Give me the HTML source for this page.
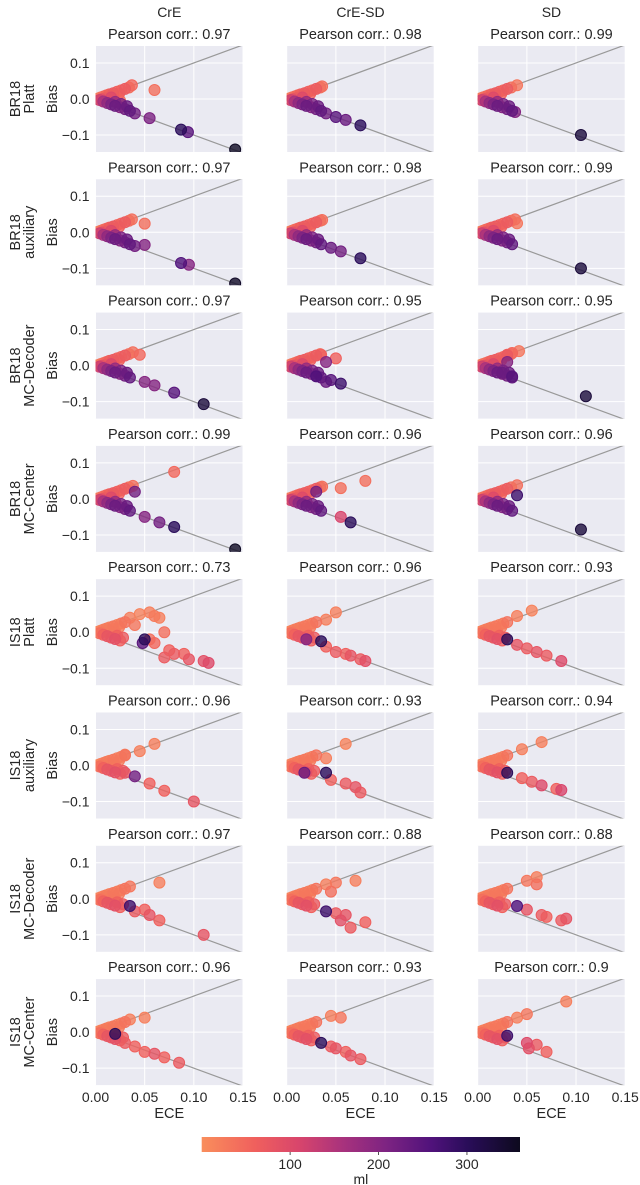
<!DOCTYPE html>
<html><head><meta charset="utf-8">
<style>
html,body{margin:0;padding:0;background:#fff;}
svg{display:block;font-family:"Liberation Sans",Arial,sans-serif;}
</style></head>
<body>
<svg id="chart" width="640" height="1185" viewBox="0 0 640 1185" xmlns="http://www.w3.org/2000/svg">
<defs>
<linearGradient id="cbgrad" x1="0" x2="1" y1="0" y2="0">
<stop offset="0" stop-color="#f98e5c"/>
<stop offset="0.167" stop-color="#f0605d"/>
<stop offset="0.306" stop-color="#d8456c"/>
<stop offset="0.444" stop-color="#a8327d"/>
<stop offset="0.583" stop-color="#7c2382"/>
<stop offset="0.722" stop-color="#50127b"/>
<stop offset="0.833" stop-color="#2a0d5a"/>
<stop offset="1" stop-color="#0d0a1e"/>
</linearGradient>
</defs>
</svg>
<script>
const colTitles = ["CrE","CrE-SD","SD"];
const rowDatasets = ["BR18","BR18","BR18","BR18","IS18","IS18","IS18","IS18"];
const rowMethods = ["Platt","auxiliary","MC-Decoder","MC-Center","Platt","auxiliary","MC-Decoder","MC-Center"];
const pearson = [
 ["0.97","0.98","0.99"],["0.97","0.98","0.99"],["0.97","0.95","0.95"],["0.99","0.96","0.96"],
 ["0.73","0.96","0.93"],["0.96","0.93","0.94"],["0.97","0.88","0.88"],["0.96","0.93","0.9"]];
const xTicks = [0,0.05,0.10,0.15];
const xTickLabels = ["0.00","0.05","0.10","0.15"];
const yTicks = [0.1,0,-0.1];
const yTickLabels = ["0.1","0.0","\u22120.1"];
const cbTicks = [100,200,300];
const cbTickLabels = ["100","200","300"];

// shared core clusters [ECE, Bias, ml]
const coreBR = [[0.002,0.001,20],[0.005,0.004,30],[0.008,0.007,40],[0.011,0.01,50],[0.014,0.013,60],[0.018,0.016,70],[0.022,0.02,60],[0.026,0.024,50],[0.03,0.028,70],[0.034,0.032,40],
 [0.012,0.006,40],[0.018,0.01,50],[0.024,0.015,60],[0.016,0.004,100],[0.02,-0.008,180],[0.026,-0.014,210],[0.032,-0.02,230],
 [0.004,-0.003,120],[0.008,-0.007,160],[0.012,-0.011,190],[0.016,-0.015,210],[0.02,-0.019,230],[0.025,-0.023,200],[0.03,-0.028,220],[0.035,-0.033,240],[0.006,-0.001,90],[0.01,0.002,70]];
const coreIS = [[0.002,0.001,10],[0.005,0.004,15],[0.008,0.007,20],[0.011,0.01,25],[0.014,0.013,15],[0.018,0.016,30],[0.022,0.02,20],[0.026,0.024,25],[0.03,0.028,35],
 [0.012,0.005,20],[0.018,0.009,15],[0.024,0.014,25],[0.02,0.0,30],[0.022,-0.01,60],[0.028,-0.015,70],
 [0.004,-0.003,40],[0.008,-0.007,60],[0.012,-0.011,80],[0.016,-0.015,70],[0.02,-0.019,90],[0.025,-0.023,60],[0.006,-0.001,30],[0.01,0.002,20],[0.015,0.003,25]];

const extra = [
 [[[0.037,0.038,50],[0.025,-0.005,30],[0.06,0.025,40],[0.04,-0.04,220],[0.055,-0.053,210],[0.087,-0.085,300],[0.094,-0.092,250],[0.142,-0.14,355]],
  [[0.036,0.035,40],[0.04,-0.04,220],[0.05,-0.05,250],[0.06,-0.058,230],[0.075,-0.073,300]],
  [[0.04,0.038,30],[0.038,-0.036,200],[0.105,-0.1,330]]],
 [[[0.037,0.036,40],[0.05,0.024,40],[0.05,-0.035,200],[0.04,-0.038,220],[0.087,-0.085,260],[0.095,-0.09,200],[0.142,-0.142,350]],
  [[0.036,0.034,40],[0.045,-0.043,230],[0.055,-0.053,220],[0.075,-0.072,300]],
  [[0.038,0.036,40],[0.04,0.025,30],[0.105,-0.1,330]]],
 [[[0.038,0.037,40],[0.045,0.03,50],[0.05,-0.045,200],[0.06,-0.055,200],[0.08,-0.075,250],[0.11,-0.107,330]],
  [[0.035,0.03,60],[0.04,0.01,200],[0.05,0.02,60],[0.03,-0.03,260],[0.04,-0.045,230],[0.045,-0.04,250],[0.055,-0.05,280]],
  [[0.03,0.03,60],[0.035,0.035,50],[0.042,0.04,30],[0.03,0.01,200],[0.035,-0.03,250],[0.025,-0.02,230],[0.11,-0.085,330]]],
 [[[0.038,0.036,40],[0.08,0.075,50],[0.04,0.02,220],[0.05,-0.05,200],[0.065,-0.065,220],[0.08,-0.078,300],[0.142,-0.14,355]],
  [[0.036,0.034,40],[0.055,0.03,40],[0.08,0.05,40],[0.03,0.02,220],[0.055,-0.05,110],[0.065,-0.065,300]],
  [[0.04,0.038,40],[0.04,0.01,280],[0.105,-0.085,330]]],
 [[[0.035,0.04,20],[0.045,0.05,15],[0.055,0.055,20],[0.06,0.045,25],[0.04,0.02,30],[0.065,0.04,20],[0.05,-0.02,300],[0.048,-0.03,250],[0.055,-0.02,40],[0.06,-0.03,50],[0.07,0.0,40],[0.075,-0.05,60],[0.08,-0.06,70],[0.09,-0.06,60],[0.07,-0.07,70],[0.095,-0.075,80],[0.11,-0.08,90],[0.115,-0.085,100]],
  [[0.05,0.055,20],[0.04,0.035,20],[0.02,-0.02,200],[0.035,-0.025,300],[0.04,-0.04,60],[0.05,-0.055,70],[0.06,-0.06,60],[0.065,-0.065,80],[0.075,-0.075,70],[0.08,-0.08,90]],
  [[0.055,0.06,15],[0.04,0.045,20],[0.03,-0.02,300],[0.04,-0.035,80],[0.05,-0.045,70],[0.06,-0.055,80],[0.07,-0.065,70],[0.085,-0.08,100]]],
 [[[0.06,0.06,20],[0.03,0.03,25],[0.045,0.04,20],[0.03,-0.02,80],[0.04,-0.03,220],[0.055,-0.05,60],[0.07,-0.07,60],[0.1,-0.1,80]],
  [[0.06,0.06,15],[0.04,0.02,20],[0.018,-0.02,230],[0.04,-0.02,300],[0.045,-0.04,60],[0.06,-0.05,70],[0.07,-0.06,80],[0.075,-0.075,70]],
  [[0.065,0.065,20],[0.045,0.045,20],[0.03,-0.02,300],[0.045,-0.035,60],[0.055,-0.045,70],[0.065,-0.055,100],[0.08,-0.065,60],[0.085,-0.068,110]]],
 [[[0.035,0.034,30],[0.065,0.045,20],[0.035,-0.02,280],[0.04,-0.035,70],[0.05,-0.03,60],[0.055,-0.045,80],[0.065,-0.06,60],[0.11,-0.1,80]],
  [[0.04,0.04,20],[0.05,0.045,30],[0.07,0.05,20],[0.045,0.02,40],[0.04,-0.035,280],[0.05,-0.04,70],[0.06,-0.045,80],[0.065,-0.08,70],[0.08,-0.065,60],[0.055,-0.06,90]],
  [[0.05,0.05,30],[0.06,0.06,20],[0.06,0.04,40],[0.04,-0.02,260],[0.05,-0.03,80],[0.065,-0.045,70],[0.07,-0.05,60],[0.09,-0.055,80],[0.085,-0.06,70]]],
 [[[0.035,0.035,20],[0.05,0.04,20],[0.02,-0.005,300],[0.03,-0.03,70],[0.04,-0.04,60],[0.05,-0.055,60],[0.06,-0.06,80],[0.07,-0.07,60],[0.085,-0.085,70]],
  [[0.045,0.045,20],[0.055,0.04,30],[0.035,-0.03,300],[0.045,-0.04,70],[0.05,-0.045,80],[0.06,-0.055,60],[0.065,-0.065,80],[0.075,-0.075,70]],
  [[0.04,0.04,20],[0.09,0.085,20],[0.05,0.05,30],[0.03,-0.01,280],[0.05,-0.03,100],[0.052,-0.045,90],[0.06,-0.035,70],[0.07,-0.055,60]]]
];

const NS = "http://www.w3.org/2000/svg";
const svg = document.getElementById('chart');
function mk(tag, attrs, parent){const e=document.createElementNS(NS,tag);for(const k in attrs)e.setAttribute(k,attrs[k]);(parent||svg).appendChild(e);return e;}

const stops=[[0,[249,142,92]],[60,[240,96,93]],[110,[216,69,108]],[160,[168,50,125]],[210,[124,35,130]],[260,[80,18,123]],[300,[42,13,90]],[360,[13,10,30]]];
function cmap(v){v=Math.max(0,Math.min(360,v));for(let i=0;i<stops.length-1;i++){const a=stops[i],b=stops[i+1];if(v<=b[0]){const t=(v-a[0])/(b[0]-a[0]);const c=a[1].map((x,j)=>Math.round(x+(b[1][j]-x)*t));return `rgb(${c[0]},${c[1]},${c[2]})`;}}return 'rgb(13,10,30)';}

const colX=[95.5,286.7,477.7], PW=147.5, PH=106, rowPitch=133.3, top0=46;
const XMIN=0,XMAX=0.15,YMAX=0.147,YMIN=-0.147;

colTitles.forEach((t,c)=>{const e=mk('text',{x:colX[c]+PW/2,y:17,'text-anchor':'middle','font-size':14,fill:'#262626'});e.textContent=t;
 
 });

for(let r=0;r<8;r++){
 const top=top0+r*rowPitch, cy=top+PH/2;
 const rl=mk('text',{transform:`translate(20,${cy}) rotate(-90)`,'text-anchor':'middle','font-size':14.5,fill:'#262626'});
 
 
 const t1=mk('tspan',{x:0,dy:0},rl);t1.textContent=rowDatasets[r];
 const t2=mk('tspan',{x:0,dy:14},rl);t2.textContent=rowMethods[r];
 const yl=mk('text',{transform:`translate(57,${cy}) rotate(-90)`,'text-anchor':'middle','font-size':14.5,fill:'#262626'});yl.textContent='Bias';
 
 
 for(let c=0;c<3;c++){
  const left=colX[c];
  const sx=v=>left+(v-XMIN)/(XMAX-XMIN)*PW;
  const sy=v=>top+(YMAX-v)/(YMAX-YMIN)*PH;
  const g=mk('g',{});
  
  
  mk('rect',{x:left,y:top,width:PW,height:PH,fill:'#eaeaf2'},g);
  xTicks.forEach(v=>mk('line',{x1:sx(v),x2:sx(v),y1:top,y2:top+PH,stroke:'#fff','stroke-width':1},g));
  yTicks.forEach(v=>mk('line',{x1:left,x2:left+PW,y1:sy(v),y2:sy(v),stroke:'#fff','stroke-width':1},g));
  const cid=`clip${r}_${c}`;const cp=mk('clipPath',{id:cid},g);mk('rect',{x:left,y:top,width:PW,height:PH},cp);
  const inner=mk('g',{'clip-path':`url(#${cid})`},g);
  mk('line',{x1:sx(0),y1:sy(0),x2:sx(0.16),y2:sy(0.16),stroke:'#999','stroke-width':1.2},inner);
  mk('line',{x1:sx(0),y1:sy(0),x2:sx(0.16),y2:sy(-0.16),stroke:'#999','stroke-width':1.2},inner);
  const pts=(r<4?coreBR:coreIS).concat(extra[r][c]).slice().sort((a,b)=>a[2]-b[2]);
  pts.forEach(p=>{const col=cmap(p[2]);const d=mk('circle',{cx:sx(p[0]),cy:sy(p[1]),r:5.5,fill:col,'fill-opacity':0.8,stroke:col,'stroke-width':1},inner);
   
   });
  const tt=mk('text',{x:left+PW/2,y:top-7,'text-anchor':'middle','font-size':14.5,fill:'#262626'},g);tt.textContent='Pearson corr.: '+pearson[r][c];
  
  
  if(c===0){yTicks.forEach((v,i)=>{const t=mk('text',{x:left-6,y:sy(v)+5,'text-anchor':'end','font-size':14,fill:'#262626'},g);t.textContent=yTickLabels[i];
   
   });}
  if(r===7){xTicks.forEach((v,i)=>{const t=mk('text',{x:sx(v),y:top+PH+17,'text-anchor':'middle','font-size':14,fill:'#262626'},g);t.textContent=xTickLabels[i];
   
   });
   const xl=mk('text',{x:left+PW/2,y:top+PH+33,'text-anchor':'middle','font-size':14.5,fill:'#262626'},g);xl.textContent='ECE';
   
   }
 }
}
// colorbar
const cbL=201.7,cbR=520,cbT=1137,cbH=15,CBMIN=0,CBMAX=360;
const cb=mk('rect',{x:cbL,y:cbT,width:cbR-cbL,height:cbH,fill:'url(#cbgrad)'});


const cbx=v=>cbL+(v-CBMIN)/(CBMAX-CBMIN)*(cbR-cbL);
cbTicks.forEach((v,i)=>{mk('line',{x1:cbx(v),x2:cbx(v),y1:cbT+cbH,y2:cbT+cbH+3,stroke:'#262626','stroke-width':0.8});
 const t=mk('text',{x:cbx(v),y:1169,'text-anchor':'middle','font-size':14,fill:'#262626'});t.textContent=cbTickLabels[i];
 
 });
const ml=mk('text',{x:(cbL+cbR)/2,y:1184,'text-anchor':'middle','font-size':14,fill:'#262626'});ml.textContent='ml';


</script>
</body></html>
